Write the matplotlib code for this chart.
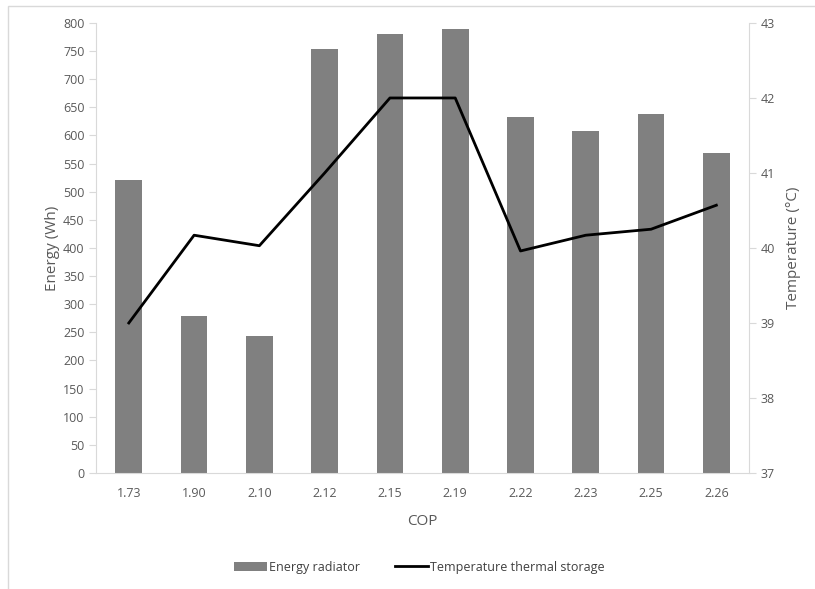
import matplotlib
matplotlib.use('Agg')
from matplotlib import pyplot as plt
from matplotlib.patches import Rectangle
import numpy as np

plt.rcParams['font.family'] = ['Open Sans', 'DejaVu Sans']

# data
cop = ['1.73', '1.90', '2.10', '2.12', '2.15', '2.19', '2.22', '2.23', '2.25', '2.26']
energy = [521, 279, 243, 754, 781, 790, 632, 608, 638, 568]
temperature = [39.0, 40.17, 40.03, 41.0, 42.0, 42.0, 39.96, 40.17, 40.25, 40.57]

grey_txt = '#595959'
spine_col = '#d9d9d9'

fig = plt.figure(figsize=(8.15, 5.89), dpi=100)
ax = fig.add_axes([0.118, 0.197, 0.801, 0.764])
x = np.arange(len(cop))

bars = ax.bar(x, energy, width=0.41, color='#808080', label='Energy radiator', zorder=2)
ax.set_xlim(-0.5, len(cop) - 0.5)
ax.set_ylim(0, 800)
ax.set_yticks(np.arange(0, 801, 50))
ax.set_xticks(x)
ax.set_xticklabels(cop)
ax.tick_params(axis='x', length=0, pad=10, labelsize=9, labelcolor=grey_txt)
ax.tick_params(axis='y', length=5, color=spine_col, labelsize=9, labelcolor=grey_txt)
for s in ['top', 'right']:
    ax.spines[s].set_visible(False)
for s in ['left', 'bottom']:
    ax.spines[s].set_color(spine_col)
ax.set_ylabel('Energy (Wh)', fontsize=11, color=grey_txt, labelpad=2)
ax.set_xlabel('COP', fontsize=11, color=grey_txt, labelpad=10)

ax2 = ax.twinx()
line, = ax2.plot(x, temperature, color='black', lw=2, label='Temperature thermal storage', zorder=3)
ax2.set_ylim(37, 43)
ax2.set_yticks(np.arange(37, 44, 1))
ax2.tick_params(axis='y', length=5, color=spine_col, labelsize=9, labelcolor=grey_txt)
for s in ['top', 'left', 'bottom']:
    ax2.spines[s].set_visible(False)
ax2.spines['right'].set_color(spine_col)
ax2.set_ylabel('Temperature (°C)', fontsize=11, color=grey_txt, labelpad=8)

fig.legend([bars, line], ['Energy radiator', 'Temperature thermal storage'],
           loc='center', bbox_to_anchor=(0.515, 0.037), ncol=2, frameon=False,
           fontsize=9, labelcolor='#404040', handlelength=2.6, columnspacing=2.8,
           handletextpad=0.2)

# chart area border
fig.patches.append(Rectangle((0.01, -0.01), 1.1, 1.0, transform=fig.transFigure,
                             fill=False, edgecolor=spine_col, lw=1))

fig.savefig('out.png', dpi=100)
